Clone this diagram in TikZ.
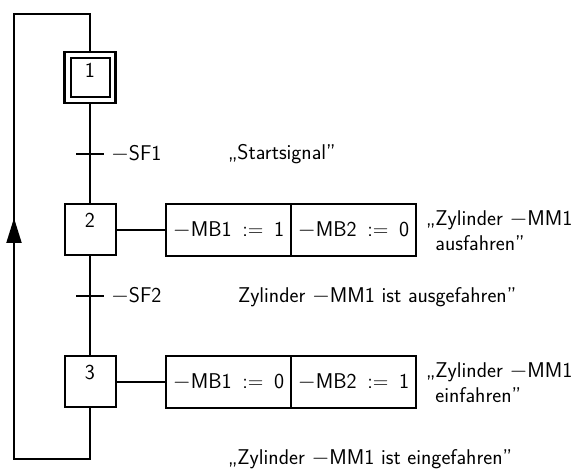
\documentclass[tikz,border=0pt]{standalone}
\usetikzlibrary{arrows.meta}

\begin{document}
\begin{tikzpicture}[x=0.75pt, y=-0.75pt, line width=1.5pt,
    font={\sffamily\fontsize{16}{16}\selectfont}]
    \def\px{0.75pt} % ein Bildpunkt
    \tikzset{
      schritt/.style={draw, inner sep=0pt, minimum width=51*\px,
        text height=17.25pt, text depth=21pt},
      aktion/.style={draw, inner sep=0pt, minimum width=125*\px,
        minimum height=52*\px},
      quer/.style={inner sep=0pt, minimum width=26*\px, minimum height=0pt},
      kommentar/.style={anchor=west, align=left, inner sep=0pt}
    }
    \useasboundingbox (0,0) rectangle (572,473);
    % Schritte — Initialschritt doppelt umrandet
    \node[schritt, minimum width=39*\px, text height=15pt, text depth=14.25pt]
      (s1) at (90,77.5) {1};
    \node[draw, line width=2pt, inner sep=0pt, minimum size=51*\px]
      (s1r) at (s1) {};
    \node[schritt] (s2) at (90,230) {2};
    \node[schritt] (s3) at (90,382) {3};
    % Transitionen
    \node[quer] (t1) at (90,154) {};
    \node[quer] (t2) at (90,296) {};
    \node[anchor=west, inner sep=0pt] (sf1) at (110,154) {$-$SF1};
    \node[anchor=west, inner sep=0pt] (sf2) at (110,296) {$-$SF2};
    % Aktionen
    \node[aktion] (a21) at (228.5,230) {$-$MB1\enspace:=\enspace1};
    \node[aktion] (a22) at (353.5,230) {$-$MB2\enspace:=\enspace0};
    \node[aktion] (a31) at (228.5,382) {$-$MB1\enspace:=\enspace0};
    \node[aktion] (a32) at (353.5,382) {$-$MB2\enspace:=\enspace1};
    % Kommentare
    \node[kommentar] (k1) at (227,154) {„Startsignal”};
    \node[kommentar] (k2) at (237,297) {Zylinder $-$MM1 ist ausgefahren”};
    \node[kommentar] (k3) at (425,231) {„Zylinder $-$MM1\\[3pt]\hphantom{„}ausfahren”};
    \node[kommentar] (k4) at (425,383) {„Zylinder $-$MM1\\[3pt]\hphantom{„}einfahren”};
    \node[kommentar] (k5) at (227,459) {„Zylinder $-$MM1 ist eingefahren”};
    % Wirkverbindungen
    \draw (s1r) -- (s2);
    \draw (s2) -- (s3);
    \draw (t1.west) -- (t1.east);
    \draw (t2.west) -- (t2.east);
    \draw (s2) -- (a21);
    \draw (s3) -- (a31);
    % Rueckfuehrung zum Initialschritt
    \coordinate (unten) at (14,459);
    \coordinate (oben) at (14,14);
    \coordinate (pfeil) at (14,218);
    \draw (s3.south) |- (unten) -- (oben) -| (s1r.north);
    \draw[-{Triangle[length=18.75pt, width=11.25pt]}] (unten) -- (pfeil);
\end{tikzpicture}
\end{document}
